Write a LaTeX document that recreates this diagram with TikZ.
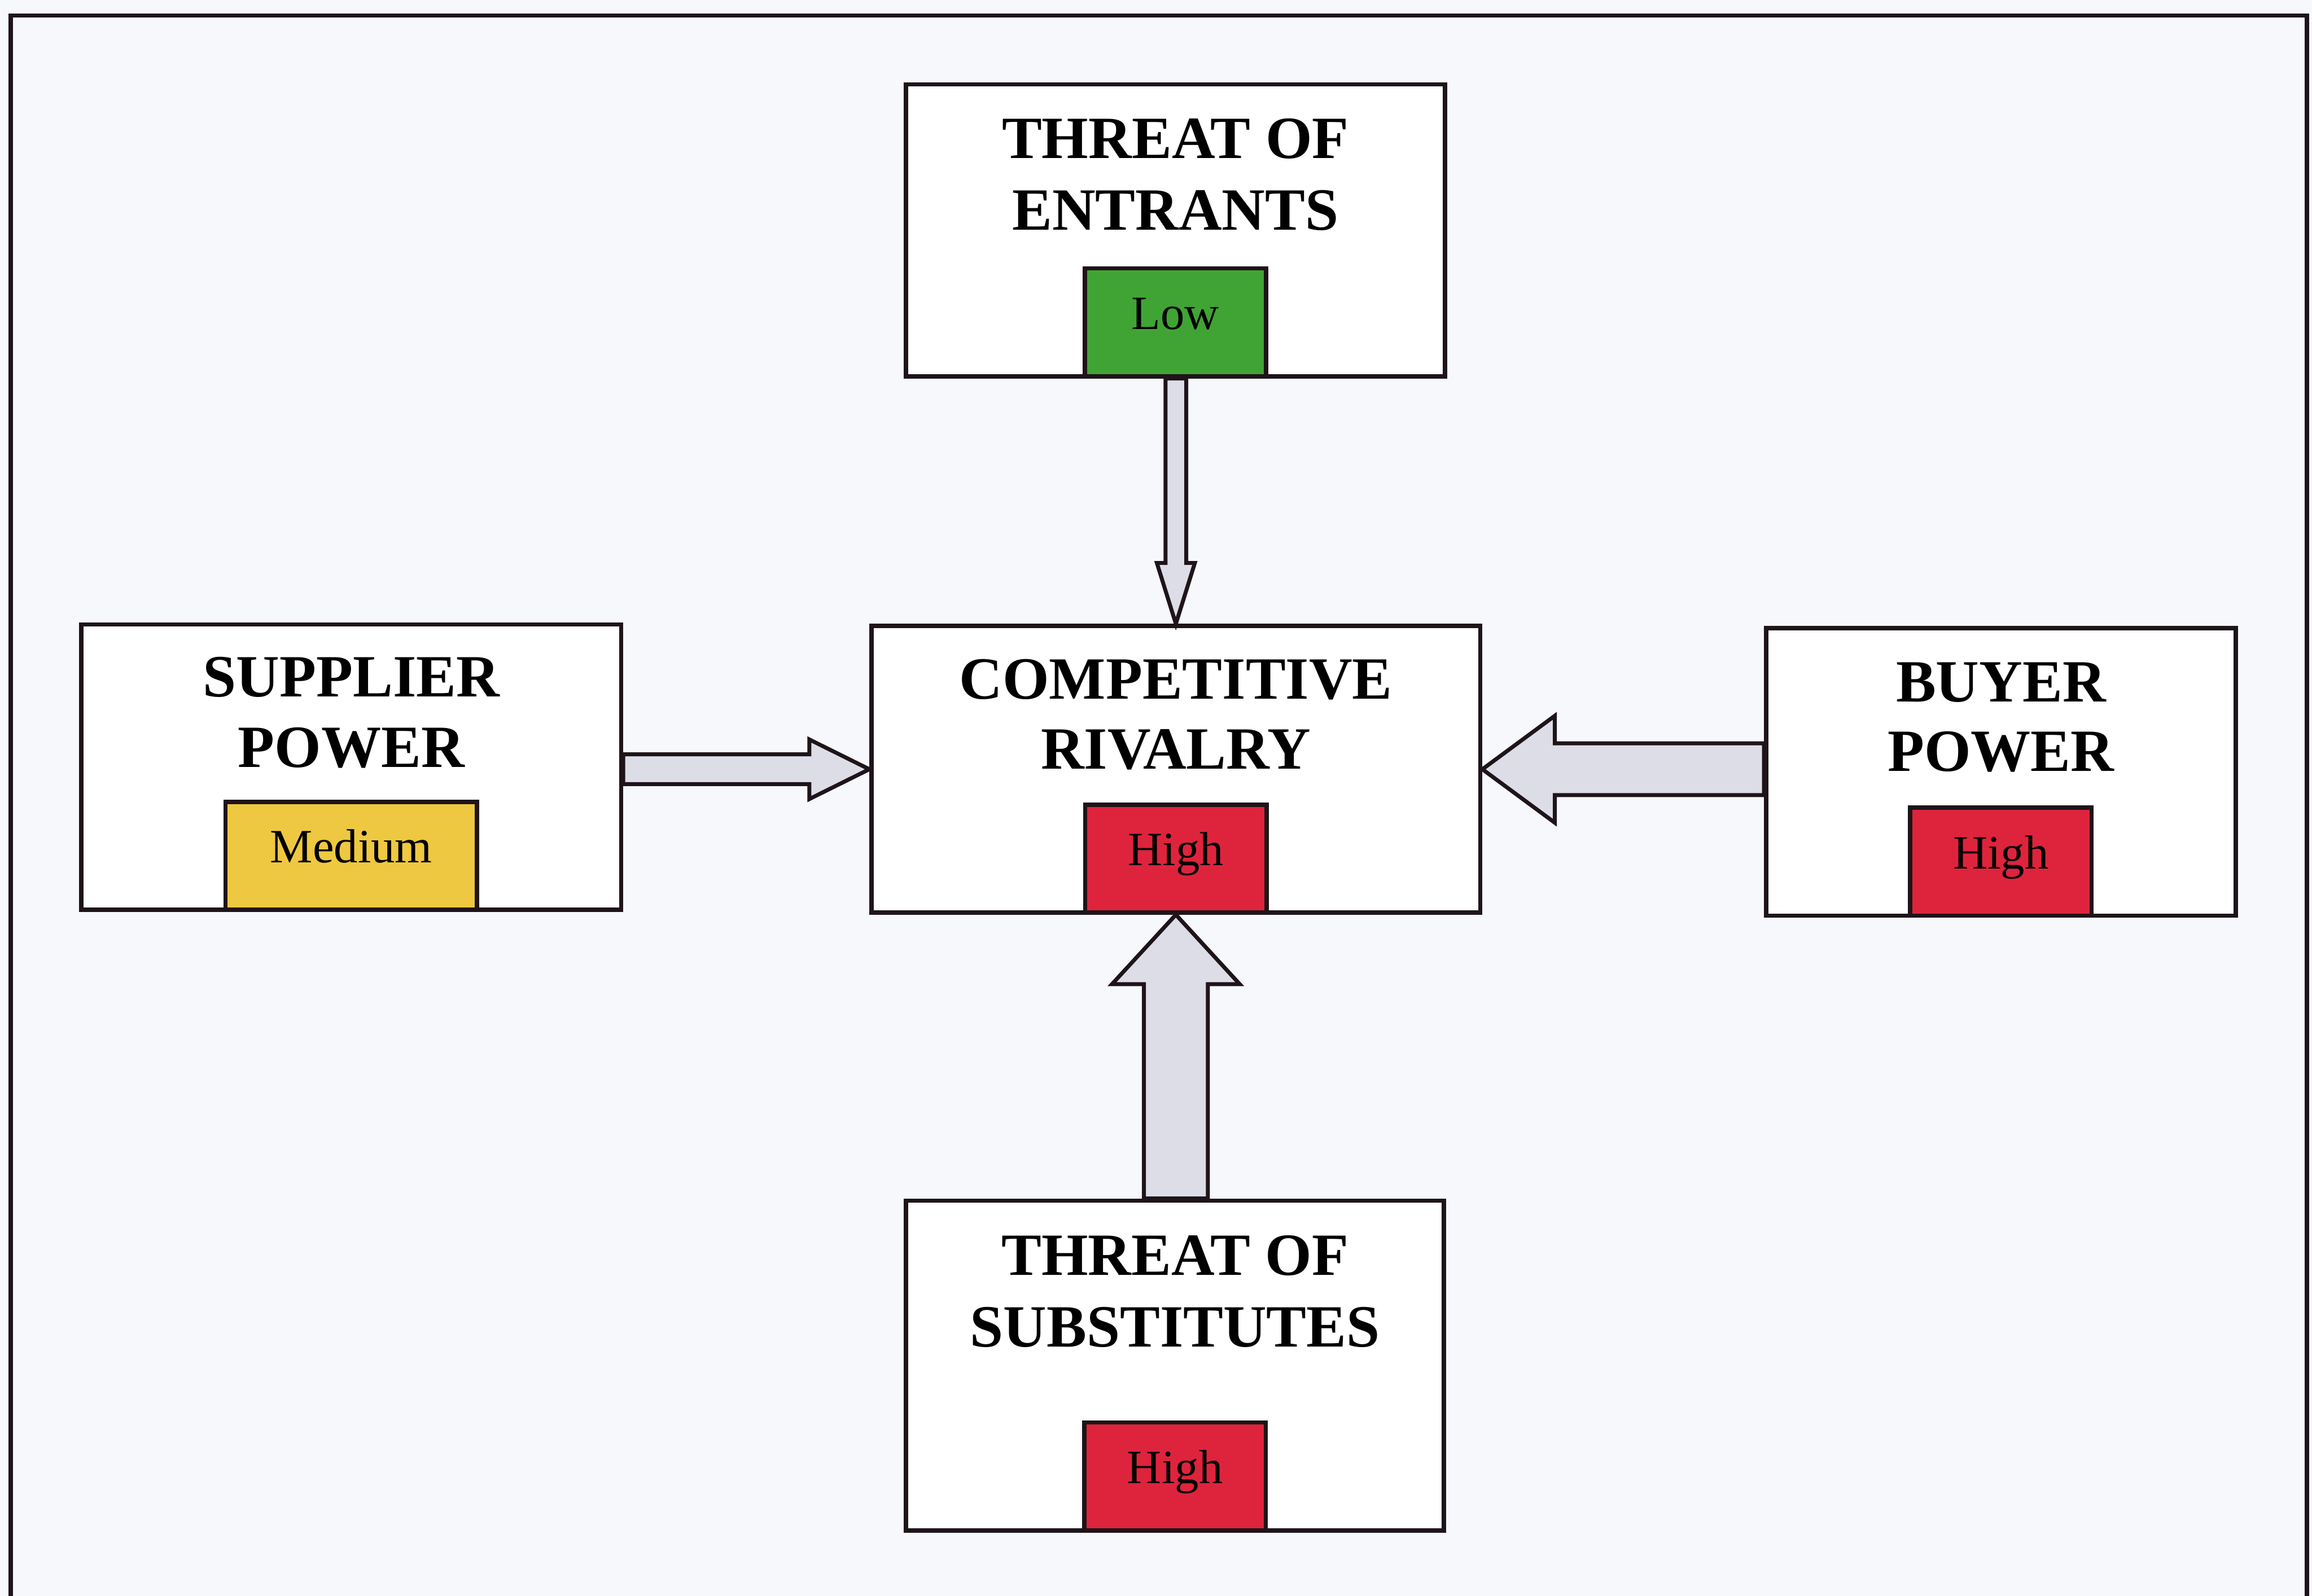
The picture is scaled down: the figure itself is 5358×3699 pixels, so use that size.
\documentclass[tikz,border=0pt]{standalone}
\usepackage{fontspec}
\setmainfont{Liberation Serif}
\usetikzlibrary{calc}

\definecolor{pagebg}{RGB}{246,248,251}
\definecolor{arrowfill}{RGB}{221,221,231}
\definecolor{lowgreen}{RGB}{64,164,52}
\definecolor{medyellow}{RGB}{238,200,64}
\definecolor{highred}{RGB}{222,36,60}
\definecolor{inkline}{RGB}{30,20,25}

% Block arrow from #1 (tail) to #2 (tip):
% #3 shaft half-width, #4 head half-width, #5 head length
\newcommand{\blockarrow}[5]{%
  \coordinate (hb) at ($(#2)!#5!(#1)$);
  \draw[forcearrow]
    ($(#1)!#3!90:(#2)$) -- ($(hb)!#3!90:(#2)$) -- ($(hb)!#4!90:(#2)$) --
    (#2) --
    ($(hb)!#4!-90:(#2)$) -- ($(hb)!#3!-90:(#2)$) -- ($(#1)!#3!-90:(#2)$) -- cycle;
}

\tikzset{
  forcebox/.style={draw=inkline, line width=2.8pt, fill=white, rectangle, inner sep=0pt},
  levelbox/.style={draw=inkline, line width=2.8pt, rectangle, inner sep=0pt,
    minimum width=4.2cm, minimum height=2.5cm, anchor=south,
    font=\fontsize{31.5}{37}\selectfont, text height=1.0em, text depth=0.07em},
  titletext/.style={anchor=base, inner sep=0pt, font=\fontsize{39.5}{47}\selectfont\bfseries},
  forcearrow/.style={draw=inkline, line width=2.6pt, fill=arrowfill, line join=miter},
  frameline/.style={draw=inkline, line width=2.8pt},
}

\begin{document}
\begin{tikzpicture}[x=0.01cm, y=-0.01cm]
  \useasboundingbox (0,0) rectangle (5358,3699);
  \clip (0,0) rectangle (5358,3699);
  \fill[pagebg] (0,0) rectangle (5358,3699);

  % open frame around the figure
  \draw[frameline] (25,3720) -- (25,36) -- (5346,36) -- (5346,3720);

  % the five forces
  \node[forcebox, minimum width=12.48cm, minimum height=6.76cm] (ent)  at (2724,534)  {};
  \node[forcebox, minimum width=12.50cm, minimum height=6.61cm] (sup)  at (814,1778)  {};
  \node[forcebox, minimum width=14.10cm, minimum height=6.64cm] (comp) at (2725,1783) {};
  \node[forcebox, minimum width=10.88cm, minimum height=6.66cm] (buy)  at (4637,1789) {};
  \node[forcebox, minimum width=12.46cm, minimum height=7.64cm] (subs) at (2723,3165) {};

  % titles
  \node[titletext] (entA)  at ($(ent.north)+(0,176)$)  {THREAT OF};
  \node[titletext] (entB)  at ($(ent.north)+(0,342)$)  {ENTRANTS};
  \node[titletext] (supA)  at ($(sup.north)+(0,172)$)  {SUPPLIER};
  \node[titletext] (supB)  at ($(sup.north)+(0,336)$)  {POWER};
  \node[titletext] (compA) at ($(comp.north)+(0,174)$) {COMPETITIVE};
  \node[titletext] (compB) at ($(comp.north)+(0,336)$) {RIVALRY};
  \node[titletext] (buyA)  at ($(buy.north)+(0,176)$)  {BUYER};
  \node[titletext] (buyB)  at ($(buy.north)+(0,337)$)  {POWER};
  \node[titletext] (subsA) at ($(subs.north)+(0,178)$) {THREAT OF};
  \node[titletext] (subsB) at ($(subs.north)+(0,344)$) {SUBSTITUTES};

  % rating tabs
  \node[levelbox, fill=lowgreen] (entL) at (ent.south) {Low};
  \node[levelbox, fill=medyellow, minimum width=5.83cm] (supL) at (sup.south) {Medium};
  \node[levelbox, fill=highred] (compL) at (comp.south) {High};
  \node[levelbox, fill=highred] (buyL) at (buy.south) {High};
  \node[levelbox, fill=highred] (subsL) at (subs.south) {High};

  % forces acting on the rivalry
  \coordinate (entTail) at (comp.north |- ent.south);
  \blockarrow{entTail}{comp.north}{0.24cm}{0.44cm}{1.41cm}

  \coordinate (supTail) at (sup.east |- comp.west);
  \blockarrow{supTail}{comp.west}{0.345cm}{0.69cm}{1.39cm}

  \coordinate (buyTail) at (buy.west |- comp.east);
  \blockarrow{buyTail}{comp.east}{0.6cm}{1.24cm}{1.68cm}

  \coordinate (subsTail) at (comp.south |- subs.north);
  \blockarrow{subsTail}{comp.south}{0.74cm}{1.48cm}{1.61cm}
\end{tikzpicture}
\end{document}
